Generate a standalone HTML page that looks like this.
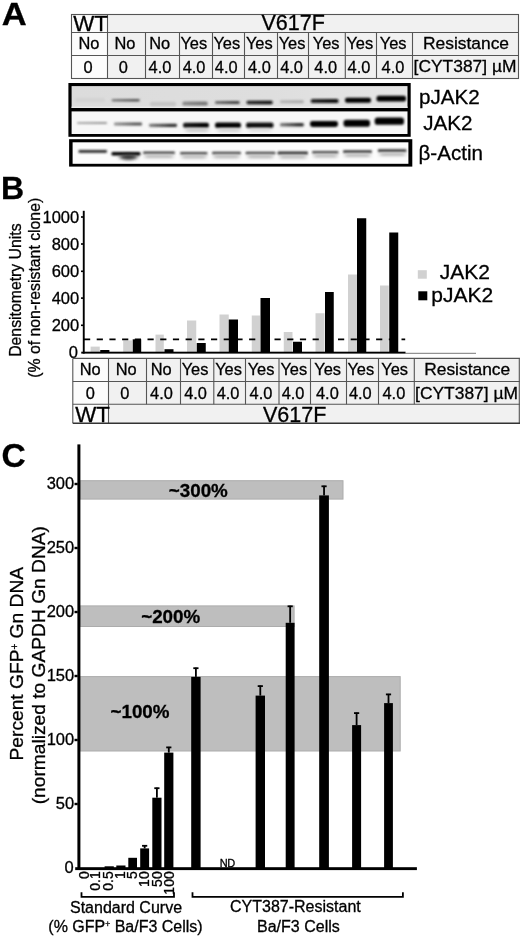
<!DOCTYPE html>
<html><head><meta charset="utf-8">
<style>
html,body{margin:0;padding:0;background:#fff;}
body{width:520px;height:940px;overflow:hidden;}
svg{display:block;will-change:transform;font-family:"Liberation Sans",sans-serif;}
text{stroke:#000;stroke-width:0.3px;}
</style></head>
<body>
<svg width="520" height="940" viewBox="0 0 520 940">
<defs>
<clipPath id="cp1"><rect x="71.9" y="86.1" width="335.6" height="21.9"/></clipPath>
<clipPath id="cp2"><rect x="71.9" y="111.5" width="335.6" height="22.5"/></clipPath>
<clipPath id="cp3"><rect x="72.7" y="142.3" width="335.7" height="21.5"/></clipPath>
<filter id="b1" x="-20%" y="-200%" width="140%" height="500%"><feGaussianBlur stdDeviation="1.3 1.0"/></filter>
<filter id="b2" x="-30%" y="-200%" width="160%" height="500%"><feGaussianBlur stdDeviation="2.2 1.6"/></filter>
</defs>

<g font-weight="bold" font-size="32">
<text transform="translate(1.7,25.2) scale(1.08,1)">A</text>
<text x="0.9" y="198.8">B</text>
<text x="1.6" y="466.6" font-size="33.5">C</text>
</g>
<rect x="71.5" y="14.4" width="446.5" height="64" fill="#f1f1f1"/>
<rect x="71.5" y="14.4" width="36" height="64" fill="#fcfcfc"/>
<g stroke="#555" stroke-width="1.1" fill="none">
<rect x="71.5" y="14.5" width="447" height="64"/>
<line x1="71.5" y1="32.5" x2="518.5" y2="32.5"/>
<line x1="71.5" y1="55.5" x2="518.5" y2="55.5"/>
<line x1="107.5" y1="14.5" x2="107.5" y2="78.5"/>
<line x1="145.5" y1="32.5" x2="145.5" y2="78.5"/>
<line x1="179.5" y1="32.5" x2="179.5" y2="78.5"/>
<line x1="212.5" y1="32.5" x2="212.5" y2="78.5"/>
<line x1="244.5" y1="32.5" x2="244.5" y2="78.5"/>
<line x1="277.5" y1="32.5" x2="277.5" y2="78.5"/>
<line x1="308.5" y1="32.5" x2="308.5" y2="78.5"/>
<line x1="345.3" y1="32.5" x2="345.3" y2="78.5"/>
<line x1="376.5" y1="32.5" x2="376.5" y2="78.5"/>
<line x1="412.5" y1="32.5" x2="412.5" y2="78.5"/>
</g>
<g font-size="16.4" text-anchor="middle" fill="#000">
<text x="89" y="48.6">No</text>
<text x="125" y="48.6">No</text>
<text x="159.75" y="48.6">No</text>
<text x="193.75" y="48.6">Yes</text>
<text x="226.75" y="48.6">Yes</text>
<text x="259.25" y="48.6">Yes</text>
<text x="292" y="48.6">Yes</text>
<text x="326.2" y="48.6">Yes</text>
<text x="359.8" y="48.6">Yes</text>
<text x="393.2" y="48.6">Yes</text>
<text x="88.1" y="72.8">0</text>
<text x="123.4" y="72.8">0</text>
<text x="160" y="72.8">4.0</text>
<text x="194.1" y="72.8">4.0</text>
<text x="226.25" y="72.8">4.0</text>
<text x="259.4" y="72.8">4.0</text>
<text x="291.6" y="72.8">4.0</text>
<text x="325.7" y="72.8">4.0</text>
<text x="359" y="72.8">4.0</text>
<text x="393" y="72.8">4.0</text>
</g>
<g font-size="17.4" text-anchor="middle" fill="#000">
<text x="466" y="49">Resistance</text>
<text x="465" y="71.6">[CYT387] µM</text>
</g>
<g font-size="22.3" fill="#000">
<text x="73.3" y="31">WT</text>
</g><g font-size="21.5" fill="#000">
<text x="261.5" y="30.1">V617F</text>
</g>
<defs><linearGradient id="pjbg" x1="0" x2="1" y1="0" y2="0"><stop offset="0" stop-color="#dcdcdc"/><stop offset="0.6" stop-color="#dedede"/><stop offset="1" stop-color="#e6e6e6"/></linearGradient></defs>
<rect x="68.4" y="83" width="342.3" height="53.8" fill="#000"/>
<rect x="71.6" y="86.1" width="335.9" height="21.9" fill="url(#pjbg)"/>
<rect x="71.6" y="106.6" width="335.9" height="1.4" fill="#ececec"/>
<rect x="71.6" y="111.4" width="335.9" height="22.6" fill="#f7f7f7"/>
<rect x="69.1" y="139.2" width="343.2" height="27.4" fill="#000"/>
<rect x="72.6" y="142.3" width="335.8" height="21.5" fill="#fcfcfc"/>
<defs><linearGradient id="g1"><stop offset="0" stop-color="#555" stop-opacity="0.7"/><stop offset="0.75" stop-color="#555"/></linearGradient><linearGradient id="g2"><stop offset="0" stop-color="#777" stop-opacity="0.8"/><stop offset="0.75" stop-color="#777"/></linearGradient><linearGradient id="g3"><stop offset="0" stop-color="#444" stop-opacity="0.7"/><stop offset="0.75" stop-color="#444"/></linearGradient><linearGradient id="g4"><stop offset="0" stop-color="#111" stop-opacity="0.9"/><stop offset="0.75" stop-color="#111"/></linearGradient><linearGradient id="g5"><stop offset="0" stop-color="#aaa" stop-opacity="0.8"/><stop offset="0.75" stop-color="#aaa"/></linearGradient><linearGradient id="g6"><stop offset="0" stop-color="#111" stop-opacity="0.9"/><stop offset="0.75" stop-color="#111"/></linearGradient><linearGradient id="g7"><stop offset="0" stop-color="#999" stop-opacity="0.8"/><stop offset="0.75" stop-color="#999"/></linearGradient><linearGradient id="g8"><stop offset="0" stop-color="#555" stop-opacity="0.6"/><stop offset="0.75" stop-color="#555"/></linearGradient><linearGradient id="g9"><stop offset="0" stop-color="#333" stop-opacity="0.6"/><stop offset="0.75" stop-color="#333"/></linearGradient><linearGradient id="g10"><stop offset="0" stop-color="#000" stop-opacity="0.9"/><stop offset="0.75" stop-color="#000"/></linearGradient><linearGradient id="g11"><stop offset="0" stop-color="#333" stop-opacity="0.6"/><stop offset="0.75" stop-color="#333"/></linearGradient></defs>
<g clip-path="url(#cp1)"><g filter="url(#b1)">
<rect x="75" y="98" width="30" height="4" rx="1.6" fill="#d3d3d3"/>
<rect x="111.7" y="99" width="28" height="2.6" rx="1.04" fill="url(#g1)"/>
<rect x="150" y="101.75" width="26" height="4.5" rx="1.8" fill="#c4c4c4"/>
<rect x="182.3" y="101.6" width="25.4" height="4" rx="1.6" fill="url(#g2)"/>
<rect x="215" y="101.1" width="24.6" height="3" rx="1.2" fill="url(#g3)"/>
<rect x="246.5" y="100.7" width="26.2" height="3.6" rx="1.44" fill="url(#g4)"/>
<rect x="280" y="100.2" width="23.8" height="3" rx="1.2" fill="url(#g5)"/>
<rect x="310.8" y="99" width="27.7" height="4" rx="1.6" fill="url(#g6)"/>
<rect x="345" y="97.7" width="26" height="5" rx="2" fill="#000"/>
<rect x="376.5" y="95.8" width="29.5" height="5.6" rx="2.24" fill="#000"/>
</g></g>
<g clip-path="url(#cp2)"><g filter="url(#b1)">
<rect x="77" y="121.9" width="30" height="2.2" rx="0.88" fill="url(#g7)"/>
<rect x="114" y="122.5" width="28" height="3" rx="1.2" fill="url(#g8)"/>
<rect x="149" y="123.7" width="28" height="3.2" rx="1.28" fill="url(#g9)"/>
<rect x="183" y="122.8" width="26" height="5" rx="2" fill="url(#g10)"/>
<rect x="215" y="122.55" width="26" height="5.5" rx="2.2" fill="#000"/>
<rect x="246" y="122.55" width="27.5" height="5.5" rx="2.2" fill="#111"/>
<rect x="280" y="123" width="23.8" height="3.6" rx="1.44" fill="url(#g11)"/>
<rect x="310" y="121" width="28" height="6" rx="2.4" fill="#000"/>
<rect x="343.5" y="119.7" width="26.5" height="7" rx="2.8" fill="#000"/>
<rect x="374.7" y="117.6" width="29.3" height="7.2" rx="2.88" fill="#000"/>
</g></g>
<g clip-path="url(#cp3)"><g filter="url(#b1)">
<rect x="78.5" y="150" width="28.5" height="2.8" rx="1.12" fill="#262626"/>
<rect x="111.5" y="152" width="29" height="3.6" rx="1.44" fill="#000"/>
<rect x="143" y="151.5" width="32" height="2.6" rx="1.04" fill="#444"/>
<rect x="180" y="151.9" width="27.5" height="2.6" rx="1.04" fill="#444"/>
<rect x="212" y="151.7" width="29" height="2.6" rx="1.04" fill="#444"/>
<rect x="245.5" y="151.7" width="30" height="2.6" rx="1.04" fill="#444"/>
<rect x="277.5" y="151.5" width="30.5" height="3" rx="1.2" fill="#333"/>
<rect x="312" y="150.9" width="26.5" height="2.6" rx="1.04" fill="#444"/>
<rect x="343" y="150.2" width="29" height="2.8" rx="1.12" fill="#3a3a3a"/>
<rect x="377.8" y="149.2" width="28.7" height="2.8" rx="1.12" fill="#333"/>
</g></g>
<g clip-path="url(#cp2)"><g filter="url(#b2)">
<rect x="186" y="128.5" width="22" height="3.5" fill="#c8c8c8"/>
<rect x="218" y="128.5" width="22" height="3.5" fill="#d0d0d0"/>
<rect x="249" y="128.5" width="22" height="3" fill="#d8d8d8"/>
</g></g>
<g clip-path="url(#cp3)"><g filter="url(#b2)"><ellipse cx="128.5" cy="157" rx="9" ry="3" fill="#3a3a3a"/>
<rect x="145" y="154.8" width="28" height="3.2" fill="#b4b4b4"/>
<rect x="182" y="155.2" width="24" height="3.2" fill="#b4b4b4"/>
<rect x="214" y="155" width="25" height="3.2" fill="#b4b4b4"/>
<rect x="248" y="155" width="25" height="3.2" fill="#b4b4b4"/>
<rect x="280" y="155.3" width="26" height="3.2" fill="#b4b4b4"/>
<rect x="314" y="154.3" width="23" height="3.2" fill="#b4b4b4"/>
<rect x="345" y="153.8" width="25" height="3.2" fill="#b4b4b4"/>
<rect x="380" y="152.8" width="25" height="3.2" fill="#b4b4b4"/>
</g></g>
<g font-size="20.6" fill="#000">
<text x="419" y="103.8">pJAK2</text>
<text x="423.2" y="129.5">JAK2</text>
<text x="418.5" y="159.6">β-Actin</text>
</g>
<g fill="#d1d1d1">
<rect x="90.6" y="346.6" width="9.15" height="5.4"/>
<rect x="123.2" y="340.4" width="8.8" height="11.6"/>
<rect x="155.5" y="334.6" width="8.3" height="17.4"/>
<rect x="187" y="320.5" width="9.25" height="31.5"/>
<rect x="219.5" y="314.5" width="9.25" height="37.5"/>
<rect x="251.75" y="315.5" width="8.25" height="36.5"/>
<rect x="283.75" y="332" width="8.75" height="20"/>
<rect x="315.5" y="313.25" width="9" height="38.75"/>
<rect x="348" y="274.5" width="9" height="77.5"/>
<rect x="380" y="285.5" width="8.75" height="66.5"/>
</g><g fill="#000">
<rect x="100.25" y="350" width="9.15" height="2"/>
<rect x="132.7" y="339.3" width="8.5" height="12.7"/>
<rect x="164.5" y="349.2" width="9" height="2.8"/>
<rect x="196.75" y="343" width="9" height="9"/>
<rect x="228.75" y="319.5" width="9.25" height="32.5"/>
<rect x="260.5" y="298" width="9.5" height="54"/>
<rect x="293" y="341.75" width="9" height="10.25"/>
<rect x="325" y="292" width="8.75" height="60"/>
<rect x="357" y="218.25" width="9.25" height="133.75"/>
<rect x="389.25" y="232.5" width="9" height="119.5"/>
</g>
<rect x="82.8" y="210.8" width="1.9" height="142.8" fill="#000"/>
<rect x="81.25" y="351.7" width="324.3" height="1.9" fill="#000"/>
<line x1="405" y1="353.3" x2="476" y2="353.3" stroke="#777" stroke-width="1"/>
<line x1="84" y1="339.4" x2="405.2" y2="339.4" stroke="#000" stroke-width="1.9" stroke-dasharray="6.2 6.5"/>
<g fill="#000">
<rect x="81" y="216.2" width="2" height="1.6"/>
<rect x="81" y="243.2" width="2" height="1.6"/>
<rect x="81" y="270.5" width="2" height="1.6"/>
<rect x="81" y="297.3" width="2" height="1.6"/>
<rect x="81" y="324.5" width="2" height="1.6"/>
</g>
<g font-size="16.5" text-anchor="end" fill="#000">
<text x="79.2" y="222.8">1000</text>
<text x="79.2" y="249.8">800</text>
<text x="79.2" y="277.1">600</text>
<text x="79.2" y="303.9">400</text>
<text x="79.2" y="331.1">200</text>
<text x="78" y="358">0</text>
</g>
<g font-size="15.8" text-anchor="middle" fill="#000">
<text transform="translate(21.2,290.1) rotate(-90)">Densitometry Units</text>
<text transform="translate(40.1,287.8) rotate(-90)">(% of non-resistant clone)</text>
</g>
<rect x="417.8" y="270.2" width="9" height="8.5" fill="#d1d1d1"/>
<rect x="418.3" y="291.3" width="9" height="9" fill="#000"/>
<g font-size="21" fill="#000">
<text x="439.8" y="279.4">JAK2</text>
<text x="431.3" y="302.4">pJAK2</text>
</g>
<rect x="73" y="358.4" width="447" height="64.9" fill="#f1f1f1"/>
<rect x="73" y="358.4" width="35.5" height="64.9" fill="#fcfcfc"/>
<g stroke="#555" stroke-width="1.1" fill="none">
<line x1="72.8" y1="358.4" x2="520" y2="358.4"/>
<line x1="72.8" y1="381.5" x2="520" y2="381.5"/>
<line x1="72.8" y1="404.3" x2="520" y2="404.3"/>
<line x1="72.8" y1="358.4" x2="72.8" y2="423.3"/>
<line x1="108.5" y1="358.4" x2="108.5" y2="423.3"/>
<line x1="519.3" y1="358.4" x2="519.3" y2="423.3"/>
<line x1="146.5" y1="358.4" x2="146.5" y2="404.3"/>
<line x1="180.5" y1="358.4" x2="180.5" y2="404.3"/>
<line x1="213.8" y1="358.4" x2="213.8" y2="404.3"/>
<line x1="245.5" y1="358.4" x2="245.5" y2="404.3"/>
<line x1="279" y1="358.4" x2="279" y2="404.3"/>
<line x1="310.5" y1="358.4" x2="310.5" y2="404.3"/>
<line x1="346.5" y1="358.4" x2="346.5" y2="404.3"/>
<line x1="378.5" y1="358.4" x2="378.5" y2="404.3"/>
<line x1="414.3" y1="358.4" x2="414.3" y2="404.3"/>
</g>
<line x1="72.8" y1="423.3" x2="520" y2="423.3" stroke="#333" stroke-width="1.6"/>
<g font-size="16.4" text-anchor="middle" fill="#000">
<text x="90.25" y="374.5">No</text>
<text x="126.25" y="374.5">No</text>
<text x="161.25" y="374.5">No</text>
<text x="195" y="374.5">Yes</text>
<text x="228.5" y="374.5">Yes</text>
<text x="261" y="374.5">Yes</text>
<text x="293.8" y="374.5">Yes</text>
<text x="327.6" y="374.5">Yes</text>
<text x="360.8" y="374.5">Yes</text>
<text x="394.6" y="374.5">Yes</text>
<text x="90.25" y="398.7">0</text>
<text x="124.75" y="398.7">0</text>
<text x="161.5" y="398.7">4.0</text>
<text x="195.6" y="398.7">4.0</text>
<text x="228.1" y="398.7">4.0</text>
<text x="261" y="398.7">4.0</text>
<text x="293.1" y="398.7">4.0</text>
<text x="327.4" y="398.7">4.0</text>
<text x="360.3" y="398.7">4.0</text>
<text x="393.9" y="398.7">4.0</text>
</g>
<g font-size="17.4" text-anchor="middle" fill="#000">
<text x="467.2" y="374.5">Resistance</text>
<text x="466.5" y="398.5">[CYT387] µM</text>
</g>
<g font-size="22.3" fill="#000">
<text x="75.3" y="421.6">WT</text>
</g><g font-size="21.5" fill="#000">
<text x="263" y="421.6">V617F</text>
</g>
<g fill="#bebebe" stroke="#acacac" stroke-width="1">
<rect x="80" y="480.7" width="263" height="18.4"/>
<rect x="80" y="605.9" width="214.1" height="20.6"/>
<rect x="80" y="676.6" width="320.2" height="74.4"/>
</g>
<g font-size="18.8" font-weight="bold" fill="#000">
<text x="168.8" y="496.5">~300%</text>
<text x="141.2" y="623.1">~200%</text>
<text x="110.5" y="718">~100%</text>
</g>
<g fill="#000">
<rect x="104.6" y="866.3" width="9.2" height="1.7"/>
<rect x="116.3" y="865.5" width="9.2" height="2.5"/>
<rect x="128.3" y="857.8" width="8.7" height="10.2"/>
<rect x="140.2" y="848.4" width="8.9" height="19.6"/>
<rect x="143.75" y="845.3" width="1.8" height="3.1"/>
<rect x="142.05" y="844.9" width="5.2" height="1.8"/>
<rect x="152.3" y="797.7" width="9.2" height="70.3"/>
<rect x="156" y="787.7" width="1.8" height="10"/>
<rect x="154.3" y="787.3" width="5.2" height="1.8"/>
<rect x="164.2" y="752.6" width="9.2" height="115.4"/>
<rect x="167.9" y="746.9" width="1.8" height="5.7"/>
<rect x="166.2" y="746.5" width="5.2" height="1.8"/>
<rect x="191.2" y="676.9" width="9.4" height="191.1"/>
<rect x="195" y="667.7" width="1.8" height="9.2"/>
<rect x="193.3" y="667.3" width="5.2" height="1.8"/>
<rect x="255.6" y="695.6" width="9.4" height="172.4"/>
<rect x="259.4" y="685.6" width="1.8" height="10"/>
<rect x="257.7" y="685.2" width="5.2" height="1.8"/>
<rect x="285.7" y="622.8" width="8.9" height="245.2"/>
<rect x="289.25" y="605.8" width="1.8" height="17"/>
<rect x="287.55" y="605.4" width="5.2" height="1.8"/>
<rect x="319.2" y="495.4" width="9.7" height="372.6"/>
<rect x="323.15" y="485.8" width="1.8" height="9.6"/>
<rect x="321.45" y="485.4" width="5.2" height="1.8"/>
<rect x="352.1" y="725.1" width="9" height="142.9"/>
<rect x="355.7" y="712.6" width="1.8" height="12.5"/>
<rect x="354" y="712.2" width="5.2" height="1.8"/>
<rect x="384.1" y="703.1" width="8.8" height="164.9"/>
<rect x="387.6" y="693.9" width="1.8" height="9.2"/>
<rect x="385.9" y="693.5" width="5.2" height="1.8"/>
</g>
<rect x="77.4" y="444.4" width="3" height="425.3" fill="#000"/>
<rect x="75.2" y="867.2" width="341.7" height="2.9" fill="#000"/>
<g fill="#000">
<rect x="74.5" y="482.8" width="3.2" height="2.4"/>
<rect x="74.5" y="546.8" width="3.2" height="2.4"/>
<rect x="74.5" y="610.8" width="3.2" height="2.4"/>
<rect x="74.5" y="674.8" width="3.2" height="2.4"/>
<rect x="74.5" y="738.8" width="3.2" height="2.4"/>
<rect x="74.5" y="802.8" width="3.2" height="2.4"/>
</g>
<g font-size="16.5" text-anchor="end" fill="#000">
<text x="74.2" y="488.6">300</text>
<text x="74.2" y="552.6">250</text>
<text x="74.2" y="616.6">200</text>
<text x="74.2" y="680.6">150</text>
<text x="74.2" y="744.6">100</text>
<text x="74.2" y="808.6">50</text>
<text x="73.6" y="873.2">0</text>
</g>
<g font-size="19.2" text-anchor="middle" fill="#000">
<text transform="translate(23,663.7) rotate(-90)">Percent GFP<tspan font-size="10" dy="-5.2">+</tspan><tspan dy="5.2"> Gn DNA</tspan></text>
<text transform="translate(45.4,665.2) rotate(-90)">(normalized to GAPDH Gn DNA)</text>
</g>
<g font-size="14" text-anchor="end" fill="#000">
<text transform="translate(88.7,871.3) rotate(-90)">0</text>
<text transform="translate(100.1,871.3) rotate(-90)">0.1</text>
<text transform="translate(112.7,871.3) rotate(-90)">0.5</text>
<text transform="translate(125.2,871.3) rotate(-90)">1</text>
<text transform="translate(137,871.3) rotate(-90)">5</text>
<text transform="translate(149,871.3) rotate(-90)">10</text>
<text transform="translate(161.75,871.3) rotate(-90)">50</text>
<text transform="translate(174.2,871.3) rotate(-90)">100</text>
</g>
<text x="219.8" y="867.2" font-size="11" fill="#000" letter-spacing="-0.5">ND</text>
<g stroke="#000" stroke-width="1.8" fill="none">
<polyline points="81.5,892.3 81.5,896.8 174,896.8 174,892.3"/>
<polyline points="192.5,892.3 192.5,896.8 402.9,896.8 402.9,892.3"/>
</g>
<g font-size="16" text-anchor="middle" fill="#000">
<text x="126" y="913">Standard Curve</text>
<text x="125.5" y="931.5">(% GFP<tspan font-size="8.5" dy="-4.6">+</tspan><tspan dy="4.6"> Ba/F3 Cells)</tspan></text>
<text x="295.4" y="912">CYT387-Resistant</text>
<text x="298.4" y="932.3">Ba/F3 Cells</text>
</g>
</svg>
</body></html>
